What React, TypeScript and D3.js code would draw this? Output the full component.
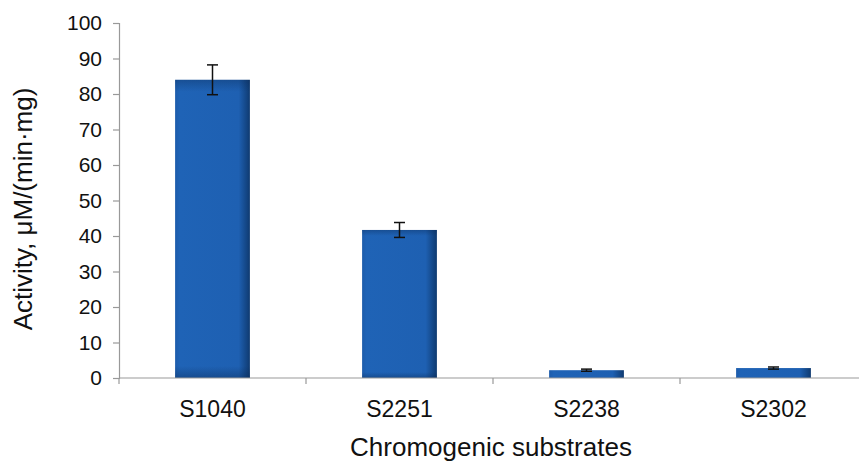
import React, { useEffect, useRef } from "react"
import * as d3 from "d3"

const substrates = ["S1040", "S2251", "S2238", "S2302"]
const activity = [84, 41.7, 2.2, 2.8]
const errors = [4.2, 2.1, 0.3, 0.3]
const yTicks = [0, 10, 20, 30, 40, 50, 60, 70, 80, 90, 100]

export default function App() {
  const ref = useRef<SVGSVGElement>(null)

  useEffect(() => {
    const width = 859
    const left = 119
    const top = 23
    const bottom = 378
    const band = 187
    const font = "'Liberation Sans', Arial, sans-serif"
    const svg = d3.select(ref.current)
    svg.selectAll("*").remove()

    const x = d3.scaleBand().domain(substrates).range([left, left + 4 * band]).paddingInner(0.6).paddingOuter(0.3)
    const y = d3.scaleLinear().domain([0, 100]).range([bottom, top])

    const defs = svg.append("defs")
    const grad = defs.append("linearGradient").attr("id", "barGrad").attr("x1", "0").attr("x2", "1").attr("y1", "0").attr("y2", "0")
    grad.append("stop").attr("offset", "0%").attr("stop-color", "#1d5cab")
    grad.append("stop").attr("offset", "6%").attr("stop-color", "#1f63b6")
    grad.append("stop").attr("offset", "85%").attr("stop-color", "#1e60b2")
    grad.append("stop").attr("offset", "100%").attr("stop-color", "#0f3a70")
    const vgrad = defs.append("linearGradient").attr("id", "barShade").attr("x1", "0").attr("x2", "0").attr("y1", "0").attr("y2", "1")
    vgrad.append("stop").attr("offset", "0%").attr("stop-color", "#0a2a55").attr("stop-opacity", 0.35)
    vgrad.append("stop").attr("offset", "4%").attr("stop-color", "#0a2a55").attr("stop-opacity", 0)
    vgrad.append("stop").attr("offset", "96%").attr("stop-color", "#0a2a55").attr("stop-opacity", 0)
    vgrad.append("stop").attr("offset", "100%").attr("stop-color", "#0a2a55").attr("stop-opacity", 0.4)

    // bars
    const bars = svg.append("g")
    bars.selectAll("rect.bar")
      .data(activity)
      .join("rect")
      .attr("class", "bar")
      .attr("x", (d, i) => x(substrates[i])!)
      .attr("y", d => y(d))
      .attr("width", x.bandwidth())
      .attr("height", d => y(0) - y(d))
      .attr("fill", "url(#barGrad)")
    bars.selectAll("rect.shade")
      .data(activity)
      .join("rect")
      .attr("class", "shade")
      .attr("x", (d, i) => x(substrates[i])!)
      .attr("y", d => y(d))
      .attr("width", x.bandwidth())
      .attr("height", d => y(0) - y(d))
      .attr("fill", "url(#barShade)")

    // error bars
    const eb = svg.append("g").attr("stroke", "#111").attr("stroke-width", 1.5)
    activity.forEach((v, i) => {
      const cx = x(substrates[i])! + x.bandwidth() / 2
      const e = errors[i]
      eb.append("line").attr("x1", cx).attr("x2", cx).attr("y1", y(v + e)).attr("y2", y(v - e))
      eb.append("line").attr("x1", cx - 5.5).attr("x2", cx + 5.5).attr("y1", y(v + e)).attr("y2", y(v + e))
      eb.append("line").attr("x1", cx - 5.5).attr("x2", cx + 5.5).attr("y1", y(v - e)).attr("y2", y(v - e))
    })

    // y axis
    const yAxis = svg.append("g")
      .attr("transform", `translate(${left},0)`)
      .call(d3.axisLeft(y).tickValues(yTicks).tickSize(6).tickPadding(11))
    yAxis.select(".domain").attr("stroke", "#999").attr("stroke-width", 1.2)
    yAxis.selectAll(".tick line").attr("stroke", "#999").attr("stroke-width", 1.2)
    yAxis.selectAll("text")
      .attr("font-family", font)
      .attr("font-size", 21)
      .attr("fill", "#111")

    // x axis
    const xAxisG = svg.append("g").attr("transform", `translate(0,${bottom})`)
    xAxisG.append("line").attr("x1", left).attr("x2", width).attr("y1", 0).attr("y2", 0)
      .attr("stroke", "#999").attr("stroke-width", 1.2)
    const bounds = d3.range(substrates.length + 1).map(i => left + i * band)
    xAxisG.selectAll("line.tk")
      .data(bounds)
      .join("line")
      .attr("class", "tk")
      .attr("x1", d => d).attr("x2", d => d).attr("y1", 0).attr("y2", 6)
      .attr("stroke", "#999").attr("stroke-width", 1.2)
    xAxisG.selectAll("text")
      .data(substrates)
      .join("text")
      .attr("x", d => x(d)! + x.bandwidth() / 2)
      .attr("y", 39)
      .attr("text-anchor", "middle")
      .attr("font-family", font)
      .attr("font-size", 23)
      .attr("fill", "#111")
      .text(d => d)

    // axis titles
    svg.append("text")
      .attr("x", 491)
      .attr("y", 456)
      .attr("text-anchor", "middle")
      .attr("font-family", font)
      .attr("font-size", 26)
      .attr("fill", "#111")
      .text("Chromogenic substrates")
    svg.append("text")
      .attr("transform", `translate(32,209) rotate(-90)`)
      .attr("text-anchor", "middle")
      .attr("font-family", font)
      .attr("font-size", 26)
      .attr("fill", "#111")
      .text("Activity, μM/(min·mg)")
  }, [])

  return (
    <svg ref={ref} width={859} height={464} style={{ position: "absolute", left: 0, top: 0, background: "#fff" }} />
  )
}
